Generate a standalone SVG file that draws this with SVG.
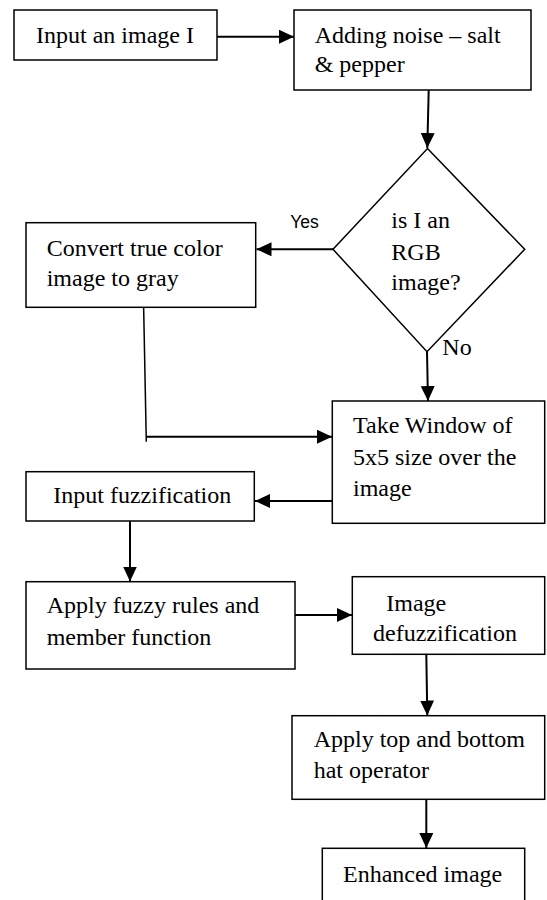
<svg xmlns="http://www.w3.org/2000/svg" width="547" height="900" viewBox="0 0 547 900">
<style>
.box{fill:#fff;stroke:#000;stroke-width:1.5}
.c{fill:none;stroke:#000;stroke-width:2}
.thin{fill:none;stroke:#000;stroke-width:1.5}
</style>
<defs>
<marker id="ah" markerUnits="userSpaceOnUse" markerWidth="15" markerHeight="14" refX="15" refY="7" orient="auto">
<path d="M0,0 L15,7 L0,14 z" fill="#000"/>
</marker>
</defs>
<rect width="547" height="900" fill="#fff"/>
<g id="connectors">
<line class="c" x1="217" y1="36.7" x2="294" y2="36.7" marker-end="url(#ah)"/>
<line class="c" x1="428.7" y1="90" x2="427.3" y2="148" marker-end="url(#ah)"/>
<line class="c" x1="333" y1="249.3" x2="256.5" y2="249.3" marker-end="url(#ah)"/>
<line class="c" x1="427" y1="351.7" x2="428" y2="401" marker-end="url(#ah)"/>
<line class="thin" x1="143.3" y1="290" x2="146.3" y2="441.7"/>
<line class="c" x1="146" y1="436.7" x2="332" y2="436.7" marker-end="url(#ah)"/>
<line class="c" x1="332.3" y1="501" x2="255" y2="501" marker-end="url(#ah)"/>
<line class="c" x1="130" y1="521" x2="130" y2="581.5" marker-end="url(#ah)"/>
<line class="c" x1="295" y1="615" x2="352" y2="615" marker-end="url(#ah)"/>
<line class="c" x1="426.3" y1="654.3" x2="427.3" y2="715.5" marker-end="url(#ah)"/>
<line class="c" x1="426.3" y1="799.3" x2="426.3" y2="848" marker-end="url(#ah)"/>
<text x="290.3" y="227.7" font-family="Liberation Sans, Arial, sans-serif" font-size="17.5">Yes</text>
<text x="442.3" y="355" font-family="Liberation Serif, Times New Roman, serif" font-size="24">No</text>
</g>
<g font-family="Liberation Serif, Times New Roman, serif" font-size="24" fill="#000">
<g id="n1">
<rect class="box" x="14" y="10" width="203" height="50"/>
<text x="36" y="43.3">Input an image I</text>
</g>
<g id="n2">
<rect class="box" x="294" y="10" width="237" height="80"/>
<text x="314.7" y="43.3">Adding noise – salt</text>
<text x="314.7" y="72">&amp; pepper</text>
</g>
<g id="n3">
<polygon class="box" points="427.5,148.5 524.7,249.3 427,351.7 333,249.3"/>
<text x="391.3" y="227.7">is I an</text>
<text x="391.3" y="259.5">RGB</text>
<text x="391.3" y="290">image?</text>
</g>
<g id="n4">
<rect class="box" x="26" y="222.7" width="229.7" height="84.6"/>
<text x="46.7" y="255.5">Convert true color</text>
<text x="46.7" y="286">image to gray</text>
</g>
<g id="n5">
<rect class="box" x="332.3" y="401" width="212.4" height="122.3"/>
<text x="353" y="433.3">Take Window of</text>
<text x="353" y="465">5x5 size over the</text>
<text x="353" y="495.5">image</text>
</g>
<g id="n6">
<rect class="box" x="26" y="471.7" width="228.3" height="49.3"/>
<text x="53.3" y="503.3">Input fuzzification</text>
</g>
<g id="n7">
<rect class="box" x="26" y="581.7" width="269" height="87.3"/>
<text x="46.7" y="613.3">Apply fuzzy rules and</text>
<text x="46.7" y="645">member function</text>
</g>
<g id="n8">
<rect class="box" x="352.3" y="576.7" width="192.4" height="77.6"/>
<text x="386.3" y="610.5">Image</text>
<text x="373" y="640.7">defuzzification</text>
</g>
<g id="n9">
<rect class="box" x="292" y="715.7" width="252.7" height="83.6"/>
<text x="313.7" y="746.7">Apply top and bottom</text>
<text x="313.7" y="778.3">hat operator</text>
</g>
<g id="n10">
<rect class="box" x="322.3" y="848.3" width="202.4" height="70"/>
<text x="343" y="881.7">Enhanced image</text>
</g>
</g>
</svg>
